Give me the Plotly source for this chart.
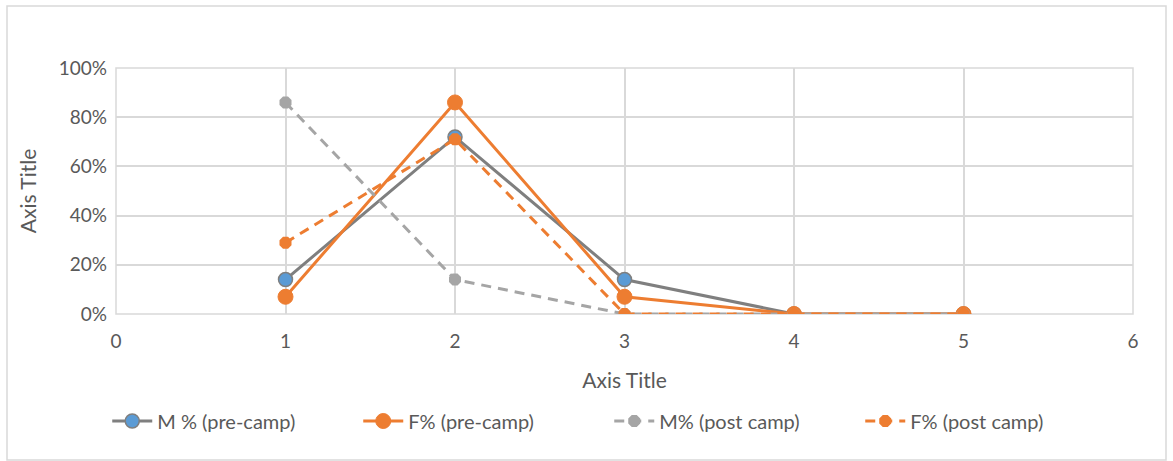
import plotly.graph_objects as go

x_vals = [1, 2, 3, 4, 5]
m_pre = [0.14, 0.72, 0.14, 0.0, 0.0]
f_pre = [0.07, 0.86, 0.07, 0.0, 0.0]
m_post = [0.86, 0.14, 0.0, 0.0, 0.0]
f_post = [0.29, 0.71, 0.0, 0.0, 0.0]
names = ["M % (pre-camp)", "F% (pre-camp)", "M% (post camp)", "F% (post camp)"]

W, H = 1173, 461
L, R, T, B = 116, 1133, 68, 314

def px_x(p):
    return (p - L) / (R - L)

def px_y(p):
    return (B - p) / (B - T)

FONT = "Lato, Open Sans, sans-serif"
GRAY_TXT = "#595959"

fig = go.Figure()
fig.add_trace(go.Scatter(x=x_vals, y=m_pre, name=names[0], mode="lines+markers",
                         line=dict(color="#7F7F7F", width=3),
                         marker=dict(size=14, color="#5B9BD5", line=dict(color="#7F7F7F", width=1.5))))
fig.add_trace(go.Scatter(x=x_vals, y=f_pre, name=names[1], mode="lines+markers",
                         line=dict(color="#ED7D31", width=3),
                         marker=dict(size=15, color="#ED7D31", line=dict(color="#ED7D31", width=1))))
fig.add_trace(go.Scatter(x=x_vals, y=m_post, name=names[2], mode="lines+markers",
                         line=dict(color="#A5A5A5", width=3, dash="10px,7px"),
                         marker=dict(size=13, symbol="octagon", color="#A5A5A5")))
fig.add_trace(go.Scatter(x=x_vals, y=f_post, name=names[3], mode="lines+markers",
                         line=dict(color="#ED7D31", width=3, dash="10px,7px"),
                         marker=dict(size=13, symbol="octagon", color="#ED7D31")))

fig.update_layout(
    width=W, height=H,
    margin=dict(l=L, r=W - R, t=T, b=H - B),
    paper_bgcolor="white", plot_bgcolor="white",
    font=dict(family=FONT, color=GRAY_TXT, size=19),
    showlegend=True,
    legend=dict(orientation="h", x=0.485, xanchor="center", y=px_y(421), yanchor="middle",
                font=dict(size=20, color=GRAY_TXT), itemwidth=40, entrywidth=196,
                entrywidthmode="pixels", tracegroupgap=0),
    xaxis=dict(range=[0, 6], dtick=1, tick0=0, showgrid=True, gridcolor="#D9D9D9", gridwidth=1.5,
               zeroline=False, showline=False, ticks="", ticklabelstandoff=14,
               tickfont=dict(size=19, color=GRAY_TXT),
               title=dict(text="Axis Title", font=dict(size=21, color=GRAY_TXT), standoff=22)),
    yaxis=dict(range=[0, 1], dtick=0.2, tickformat=".0%", showgrid=True, gridcolor="#D9D9D9",
               gridwidth=1.5, zeroline=False, showline=False, ticks="", ticklabelstandoff=8,
               tickfont=dict(size=19, color=GRAY_TXT),
               title=dict(text="Axis Title", font=dict(size=21, color=GRAY_TXT), standoff=16)),
    shapes=[
        dict(type="rect", xref="paper", yref="paper", x0=0, x1=1, y0=0, y1=1,
             line=dict(color="#D9D9D9", width=1.5), layer="below"),
        dict(type="rect", xref="paper", yref="paper", x0=px_x(7), x1=px_x(1166),
             y0=px_y(460), y1=px_y(6), line=dict(color="#D9D9D9", width=1.5)),
    ],
)

fig.write_html("out.html")
